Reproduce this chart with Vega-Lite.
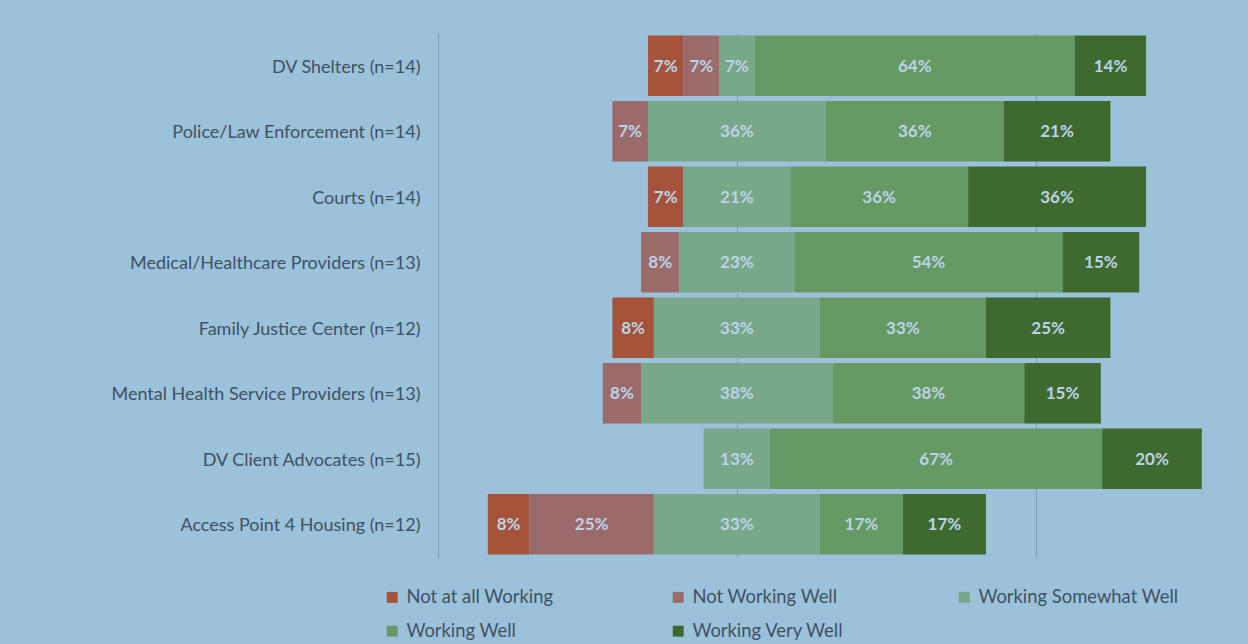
{
  "$schema": "https://vega.github.io/schema/vega-lite/v6.json",
  "width": 797,
  "height": 524,
  "autosize": {"type": "none"},
  "padding": {"left": 438, "top": 33, "right": 13, "bottom": 87},
  "background": "#9CC1DB",
  "config": {
    "view": {"stroke": null},
    "font": "Lato",
    "legend": {"gridAlign": "all"}
  },
  "data": {
    "values": [
      {"cat": "DV Shelters (n=14)", "resp": "Not at all Working", "pct": 0.0714},
      {"cat": "DV Shelters (n=14)", "resp": "Not Working Well", "pct": 0.0714},
      {"cat": "DV Shelters (n=14)", "resp": "Working Somewhat Well", "pct": 0.0714},
      {"cat": "DV Shelters (n=14)", "resp": "Working Well", "pct": 0.6429},
      {"cat": "DV Shelters (n=14)", "resp": "Working Very Well", "pct": 0.1429},
      {"cat": "Police/Law Enforcement (n=14)", "resp": "Not Working Well", "pct": 0.0714},
      {"cat": "Police/Law Enforcement (n=14)", "resp": "Working Somewhat Well", "pct": 0.3571},
      {"cat": "Police/Law Enforcement (n=14)", "resp": "Working Well", "pct": 0.3571},
      {"cat": "Police/Law Enforcement (n=14)", "resp": "Working Very Well", "pct": 0.2143},
      {"cat": "Courts (n=14)", "resp": "Not at all Working", "pct": 0.0714},
      {"cat": "Courts (n=14)", "resp": "Working Somewhat Well", "pct": 0.2143},
      {"cat": "Courts (n=14)", "resp": "Working Well", "pct": 0.3571},
      {"cat": "Courts (n=14)", "resp": "Working Very Well", "pct": 0.3571},
      {"cat": "Medical/Healthcare Providers (n=13)", "resp": "Not Working Well", "pct": 0.0769},
      {"cat": "Medical/Healthcare Providers (n=13)", "resp": "Working Somewhat Well", "pct": 0.2308},
      {"cat": "Medical/Healthcare Providers (n=13)", "resp": "Working Well", "pct": 0.5385},
      {"cat": "Medical/Healthcare Providers (n=13)", "resp": "Working Very Well", "pct": 0.1538},
      {"cat": "Family Justice Center (n=12)", "resp": "Not at all Working", "pct": 0.0833},
      {"cat": "Family Justice Center (n=12)", "resp": "Working Somewhat Well", "pct": 0.3333},
      {"cat": "Family Justice Center (n=12)", "resp": "Working Well", "pct": 0.3333},
      {"cat": "Family Justice Center (n=12)", "resp": "Working Very Well", "pct": 0.25},
      {"cat": "Mental Health Service Providers (n=13)", "resp": "Not Working Well", "pct": 0.0769},
      {"cat": "Mental Health Service Providers (n=13)", "resp": "Working Somewhat Well", "pct": 0.3846},
      {"cat": "Mental Health Service Providers (n=13)", "resp": "Working Well", "pct": 0.3846},
      {"cat": "Mental Health Service Providers (n=13)", "resp": "Working Very Well", "pct": 0.1538},
      {"cat": "DV Client Advocates (n=15)", "resp": "Working Somewhat Well", "pct": 0.1333},
      {"cat": "DV Client Advocates (n=15)", "resp": "Working Well", "pct": 0.6667},
      {"cat": "DV Client Advocates (n=15)", "resp": "Working Very Well", "pct": 0.2},
      {"cat": "Access Point 4 Housing (n=12)", "resp": "Not at all Working", "pct": 0.0833},
      {"cat": "Access Point 4 Housing (n=12)", "resp": "Not Working Well", "pct": 0.25},
      {"cat": "Access Point 4 Housing (n=12)", "resp": "Working Somewhat Well", "pct": 0.3333},
      {"cat": "Access Point 4 Housing (n=12)", "resp": "Working Well", "pct": 0.1667},
      {"cat": "Access Point 4 Housing (n=12)", "resp": "Working Very Well", "pct": 0.1667}
    ]
  },
  "transform": [
    {"calculate": "indexof(['Not at all Working','Not Working Well','Working Somewhat Well','Working Well','Working Very Well'], datum.resp)", "as": "ord"},
    {"calculate": "(datum.resp === 'Not at all Working' || datum.resp === 'Not Working Well') ? datum.pct : (datum.resp === 'Working Somewhat Well' ? datum.pct / 2 : 0)", "as": "neg"},
    {"stack": "pct", "groupby": ["cat"], "sort": [{"field": "ord", "order": "ascending"}], "as": ["v1", "v2"]},
    {"joinaggregate": [{"op": "sum", "field": "neg", "as": "off"}], "groupby": ["cat"]},
    {"calculate": "datum.v1 - datum.off", "as": "xs"},
    {"calculate": "datum.v2 - datum.off", "as": "xe"},
    {"calculate": "(datum.xs + datum.xe) / 2", "as": "xm"}
  ],
  "encoding": {
    "y": {
      "field": "cat",
      "type": "nominal",
      "sort": ["DV Shelters (n=14)", "Police/Law Enforcement (n=14)", "Courts (n=14)", "Medical/Healthcare Providers (n=13)", "Family Justice Center (n=12)", "Mental Health Service Providers (n=13)", "DV Client Advocates (n=15)", "Access Point 4 Housing (n=12)"],
      "scale": {"paddingInner": 0.08, "paddingOuter": 0.04},
      "axis": {"title": null, "ticks": false, "domain": false, "labelFontSize": 18, "labelColor": "#3E5263", "labelPadding": 18, "labelFont": "Lato", "labelLimit": 0, "labelOffset": 2}
    }
  },
  "layer": [
    {
      "mark": {"type": "bar"},
      "encoding": {
        "x": {
          "field": "xs",
          "type": "quantitative",
          "scale": {"domain": [-0.6, 1.0], "nice": false, "zero": false},
          "axis": {"title": null, "labels": false, "ticks": false, "domain": false, "grid": true, "values": [-0.6, 0, 0.6], "gridColor": "#7E9DB3", "gridOpacity": 1, "gridWidth": 1}
        },
        "x2": {"field": "xe"},
        "color": {
          "field": "resp",
          "type": "nominal",
          "scale": {
            "domain": ["Not at all Working", "Not Working Well", "Working Somewhat Well", "Working Well", "Working Very Well"],
            "range": ["#A5533A", "#9B6B6B", "#78A88A", "#659A65", "#3E6A2F"]
          },
          "legend": {
            "orient": "none",
            "legendX": -55,
            "legendY": 555,
            "direction": "horizontal",
            "columns": 3,
            "title": null,
            "symbolType": "square",
            "symbolSize": 120,
            "symbolStrokeWidth": 0,
            "symbolOpacity": 1,
            "labelFontSize": 18.4,
            "labelFont": "Lato",
            "labelColor": "#3E5263",
            "labelOffset": 5,
            "columnPadding": 62,
            "rowPadding": 15,
            "labelLimit": 300
          }
        }
      }
    },
    {
      "mark": {"type": "text", "fontWeight": "bold", "fontSize": 17, "color": "#BCD3E6", "font": "Lato", "dy": 1},
      "encoding": {
        "x": {"field": "xm", "type": "quantitative"},
        "text": {"field": "pct", "type": "quantitative", "format": ".0%"}
      }
    }
  ]
}
